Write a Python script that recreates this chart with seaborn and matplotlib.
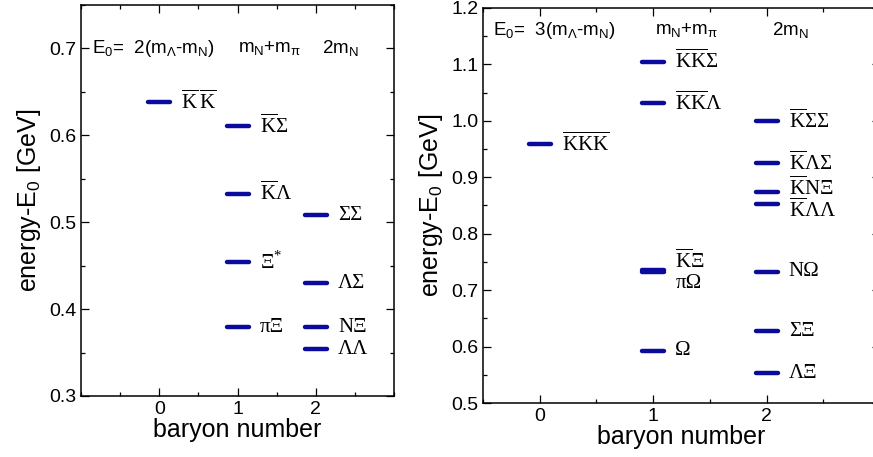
import matplotlib
matplotlib.use("Agg")
import matplotlib.pyplot as plt
from matplotlib.ticker import MultipleLocator, FixedLocator
import pandas as pd
import seaborn as sns

# niveaux d'énergie (energy - E0, GeV) par nombre baryonique
left_baryon = [0, 1, 1, 1, 1, 2, 2, 2, 2]
left_energy = [0.638, 0.611, 0.533, 0.454, 0.379, 0.508, 0.430, 0.379, 0.354]
left_labels = [r"$\overline{\mathrm{K}}\,\overline{\mathrm{K}}$", r"$\overline{\mathrm{K}}$Σ",
               r"$\overline{\mathrm{K}}$Λ", r"Ξ$^{*}$", "πΞ", "ΣΣ", "ΛΣ", "NΞ", "ΛΛ"]
left_dy = [0, 0, 0, 0, 0, 0, 0, 0, 0]

right_baryon = [0, 1, 1, 1, 1, 1, 2, 2, 2, 2, 2, 2, 2]
right_energy = [0.959, 1.105, 1.031, 0.736, 0.732, 0.593, 1.000, 0.925, 0.874, 0.852, 0.733, 0.627, 0.553]
right_labels = [r"$\overline{\mathrm{K}}\overline{\mathrm{K}}\overline{\mathrm{K}}$",
                r"$\overline{\mathrm{K}}\overline{\mathrm{K}}$Σ", r"$\overline{\mathrm{K}}\overline{\mathrm{K}}$Λ",
                r"$\overline{\mathrm{K}}$Ξ", "πΩ", "Ω",
                r"$\overline{\mathrm{K}}$ΣΣ", r"$\overline{\mathrm{K}}$ΛΣ", r"$\overline{\mathrm{K}}$NΞ",
                r"$\overline{\mathrm{K}}$ΛΛ", "NΩ", "ΣΞ", "ΛΞ"]
right_dy = [0, 0, 0, 6, -8, 0, 0, 0, 3, -4, 0, 0, 0]

left_header = [r"E$_\mathsf{0}$=  2(m$_\mathsf{\Lambda}$-m$_\mathsf{N}$)", r"m$_\mathsf{N}$+m$_\mathsf{\pi}$", r"2m$_\mathsf{N}$"]
left_header_x = [-0.86, 1.01, 2.08]
right_header = [r"E$_\mathsf{0}$=  3(m$_\mathsf{\Lambda}$-m$_\mathsf{N}$)", r"m$_\mathsf{N}$+m$_\mathsf{\pi}$", r"2m$_\mathsf{N}$"]
right_header_x = [-0.41, 1.02, 2.05]

sns.set_style("ticks")
plt.rcParams["font.family"] = ["Liberation Sans", "DejaVu Sans"]
plt.rcParams["mathtext.fontset"] = "custom"
plt.rcParams["mathtext.rm"] = "Liberation Serif"
plt.rcParams["mathtext.sf"] = "Liberation Sans"
plt.rcParams["axes.linewidth"] = 1.1
plt.rcParams["axes.edgecolor"] = "black"
plt.rcParams["axes.labelcolor"] = "black"
plt.rcParams["text.color"] = "black"
plt.rcParams["xtick.color"] = "black"
plt.rcParams["ytick.color"] = "black"

bar_color = "#0a0a9c"
W, H = 873, 457

fig = plt.figure(figsize=(W / 100, H / 100), dpi=100)
ax1 = fig.add_axes([81 / W, (H - 396) / H, 313 / W, 391 / H])
ax2 = fig.add_axes([483 / W, (H - 403) / H, 397 / W, 395 / H])


def draw_panel(ax, baryon, energy, labels, dy, header, header_x, header_y):
    df = pd.DataFrame({"baryon": baryon, "energy": energy})
    sns.scatterplot(data=df, x="baryon", y="energy", marker="_", s=260,
                    linewidth=3.2, color=bar_color, ax=ax, zorder=3)
    for coll in ax.collections:
        coll.set_capstyle("round")
    for b, e, lab, d in zip(baryon, energy, labels, dy):
        ax.annotate(lab, (b, e), xytext=(16, d), textcoords="offset points",
                    ha="left", va="center", fontsize=15, family="Liberation Serif")
    for txt, hx in zip(header, header_x):
        ax.text(hx, header_y, txt, ha="left", va="center", fontsize=13.5)
    ax.tick_params(which="both", direction="in", top=True, right=True,
                   labelsize=14, width=0.9)
    ax.tick_params(which="major", length=6)
    ax.tick_params(which="minor", length=3)
    ax.xaxis.set_major_locator(FixedLocator([0, 1, 2]))
    ax.xaxis.set_minor_locator(MultipleLocator(0.5))
    ax.yaxis.set_major_locator(MultipleLocator(0.1))
    ax.yaxis.set_minor_locator(MultipleLocator(0.05))
    ax.set_xlabel("baryon number", fontsize=18, labelpad=0)
    ax.set_ylabel(r"energy-E$_\mathsf{0}$ [GeV]", fontsize=18, labelpad=4)


draw_panel(ax1, left_baryon, left_energy, left_labels, left_dy, left_header, left_header_x, 0.70)
ax1.set_xlim(-1, 3)
ax1.set_ylim(0.3, 0.75)

draw_panel(ax2, right_baryon, right_energy, right_labels, right_dy, right_header, right_header_x, 1.16)
ax2.set_xlim(-0.5, 3)
ax2.set_ylim(0.5, 1.2)

fig.savefig("out.png", dpi=100)
